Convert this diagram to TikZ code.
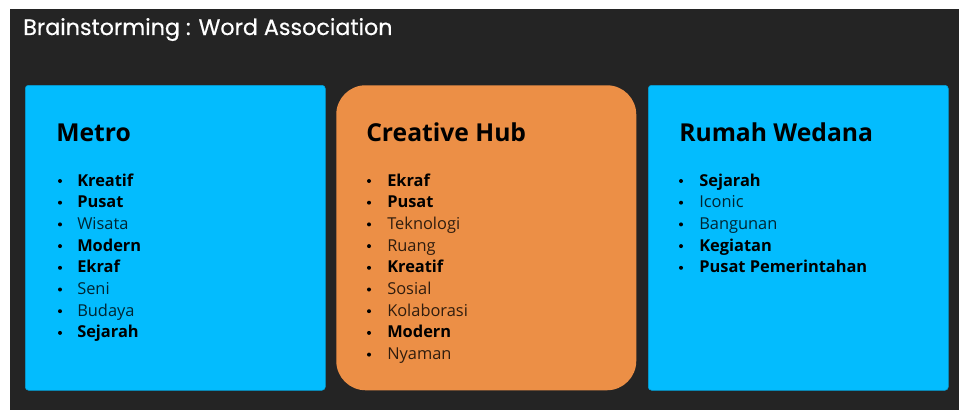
\documentclass[tikz,border=0pt]{standalone}
\usepackage{fontspec}
\setmainfont{Open Sans}
\newfontfamily\titlefont{Poppins}[FakeBold=0.5]
\usetikzlibrary{positioning}
\definecolor{bgdark}{HTML}{242424}
\definecolor{skyblue}{HTML}{03BCFE}
\definecolor{huborange}{HTML}{EC8F46}
\begin{document}
\begin{tikzpicture}[x=0.75pt,y=-0.75pt,
  blue box/.style={draw=skyblue!85!black,fill=skyblue,line width=0.4pt,rounded corners=2.5pt,
    minimum width=225pt,minimum height=228.75pt,anchor=north west,inner sep=0pt},
  hub box/.style={fill=huborange,rounded corners=22pt,
    minimum width=225pt,minimum height=228.75pt,anchor=north west,inner sep=0pt},
  head/.style={anchor=base west,inner sep=0pt,font=\fontsize{18.5}{20}\selectfont\bfseries},
  itemb/.style={anchor=base west,inner sep=0pt,font=\fontsize{12.3}{14}\selectfont\bfseries},
  itemr/.style={anchor=base west,inner sep=0pt,text opacity=0.8,font=\fontsize{12.3}{14}\selectfont},
  dot/.style={circle,fill=black,inner sep=0pt,minimum size=3pt}]
\useasboundingbox (0,0) rectangle (959,410);
\fill[bgdark] (10,9) rectangle (959,410);
\node[anchor=base west,inner sep=0pt,text=white,font=\titlefont\fontsize{16.7}{18}\selectfont] (title) at (23,35) {Brainstorming : Word Association};
% the three boxes
\node[blue box] (metro) at (25,85) {};
\node[hub box] (hub) at (336,85) {};
\node[blue box] (rumah) at (648,85) {};
\node[head] (metrohead) at (56,141) {Metro};
\node[head] (hubhead) at (366,141) {Creative Hub};
\node[head] (rumahhead) at (679,141) {Rumah Wedana};
% word lists
\foreach \w/\s [count=\i] in {Kreatif/b,Pusat/b,Wisata/r,Modern/b,Ekraf/b,Seni/r,Budaya/r,Sejarah/b}{
  \node[dot] (mb\i) at (60,{186+21.7*(\i-1)-5}) {};
  \node[item\s] (m\i) at (77,{186+21.7*(\i-1)}) {\w};
}
\foreach \w/\s [count=\i] in {Ekraf/b,Pusat/b,Teknologi/r,Ruang/r,Kreatif/b,Sosial/r,Kolaborasi/r,Modern/b,Nyaman/r}{
  \node[dot] (hb\i) at (369,{186+21.7*(\i-1)-5}) {};
  \node[item\s] (h\i) at (387,{186+21.7*(\i-1)}) {\w};
}
\foreach \w/\s [count=\i] in {Sejarah/b,Iconic/r,Bangunan/r,Kegiatan/b,Pusat Pemerintahan/b}{
  \node[dot] (rb\i) at (681,{186+21.7*(\i-1)-5}) {};
  \node[item\s] (r\i) at (699,{186+21.7*(\i-1)}) {\w};
}
\end{tikzpicture}
\end{document}
